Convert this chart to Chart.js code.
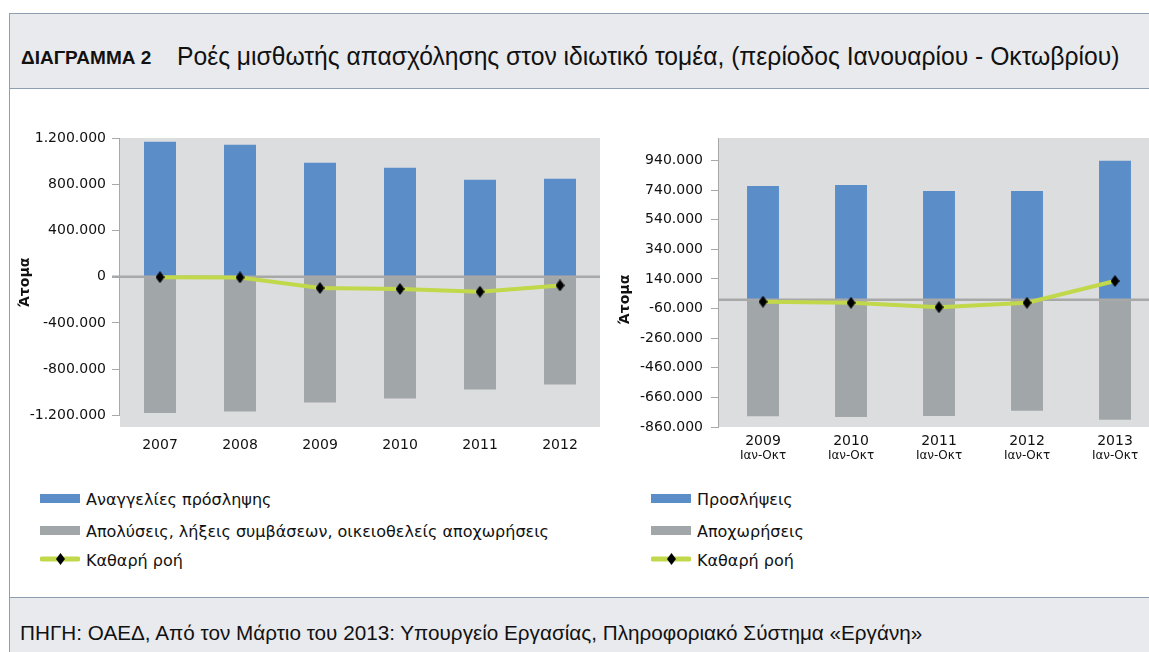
<!DOCTYPE html>
<html>
<head>
<meta charset="utf-8">
<script src="https://cdn.jsdelivr.net/npm/chart.js@4.4.0/dist/chart.umd.min.js"></script>
<style>
  body { margin: 0; width: 1149px; height: 652px; overflow: hidden; background: #fff; position: relative; font-family: "DejaVu Sans", sans-serif; color: #111; }
  #frame { position: absolute; left: 9px; top: 13px; width: 1200px; height: 700px; border-left: 1px solid #8e9fb3; border-top: 1px solid #8e9fb3; }
  #head { position: absolute; left: 10px; top: 14px; width: 1200px; height: 74px; background: #e9eaee; border-bottom: 1px solid #8e9fb3; }
  #foot { position: absolute; left: 10px; top: 597px; width: 1200px; height: 80px; background: #e9eaee; border-top: 1px solid #8e9fb3; }
  .txt { position: absolute; white-space: nowrap; line-height: 1; }
  #num { left: 21px; top: 47px; font: bold 19px "Liberation Sans", sans-serif; }
  #title { left: 177px; top: 41px; font: 26px "Liberation Sans", sans-serif; transform: scaleX(0.948); transform-origin: 0 0; }
  #source { left: 20px; top: 621px; font: 20.7px "Liberation Sans", sans-serif; }
  canvas { position: absolute; }
  #leftChart { left: 10px; top: 118px; }
  #rightChart { left: 610px; top: 118px; }
  .leg { position: absolute; font-size: 16px; line-height: 1; white-space: nowrap; }
  .leg .sw { position: absolute; left: 0; width: 40px; height: 9px; }
  .leg canvas { position: absolute; left: 0; }
  .leg span { position: absolute; left: 46px; top: 0; }
</style>
</head>
<body>
<div id="frame"></div>
<div id="head"></div>
<div id="foot"></div>
<div class="txt" id="num">ΔΙΑΓΡΑΜΜΑ 2</div>
<div class="txt" id="title">Ροές μισθωτής απασχόλησης στον ιδιωτικό τομέα, (περίοδος Ιανουαρίου - Οκτωβρίου)</div>
<div class="txt" id="source">ΠΗΓΗ: ΟΑΕΔ, Από τον Μάρτιο του 2013: Υπουργείο Εργασίας, Πληροφοριακό Σύστημα «Εργάνη»</div>

<canvas id="leftChart" width="600" height="352"></canvas>
<canvas id="rightChart" width="560" height="352"></canvas>
<div id="legendLeft"></div>
<div id="legendRight"></div>

<script>
"use strict";
// left chart: annual flows
const years = ['2007', '2008', '2009', '2010', '2011', '2012'];
const announcements = [1168000, 1142000, 986000, 943000, 839000, 848000];
const dismissals = [-1179000, -1165000, -1087000, -1053000, -975000, -932000];
const netFlow = [-4000, -6000, -98000, -106000, -130000, -75000];
const leftTicks = [1200000, 800000, 400000, 0, -400000, -800000, -1200000];

// right chart: January - October
const periodYears = ['2009', '2010', '2011', '2012', '2013'];
const periodLabels = ['Ιαν-Οκτ', 'Ιαν-Οκτ', 'Ιαν-Οκτ', 'Ιαν-Οκτ', 'Ιαν-Οκτ'];
const hires = [768000, 775000, 734000, 734000, 938000];
const exits = [-788000, -793000, -786000, -750000, -811000];
const netFlowPeriod = [-14000, -21000, -51000, -21000, 126000];
const rightTicks = [940000, 740000, 540000, 340000, 140000, -60000, -260000, -460000, -660000, -860000];

const blue = '#5b8ec9';
const grey = '#a1a6a9';
const green = '#c1d84a';
const axisGrey = '#a8a8a8';

function fmt(v) {
    const s = String(Math.abs(v)).replace(/\B(?=(\d{3})+(?!\d))/g, '.');
    return (v < 0 ? '-' : '') + s;
}

function diamond(w, h) {
    const c = document.createElement('canvas');
    c.width = w;
    c.height = h;
    const g = c.getContext('2d');
    g.fillStyle = '#000';
    g.beginPath();
    g.moveTo(w / 2, 0);
    g.lineTo(w, h / 2);
    g.lineTo(w / 2, h);
    g.lineTo(0, h / 2);
    g.closePath();
    g.fill();
    return c;
}
const marker = diamond(9, 12);

const plotBg = {
    id: 'plotBg',
    beforeDraw(chart) {
        const a = chart.chartArea, ctx = chart.ctx;
        ctx.save();
        ctx.fillStyle = '#dcdddf';
        ctx.fillRect(a.left, a.top, a.right - a.left, a.bottom - a.top);
        ctx.restore();
    }
};

// y axis line only runs down to the lowest tick
const axisLine = {
    id: 'axisLine',
    afterDraw(chart) {
        const y = chart.scales.y, ctx = chart.ctx;
        const low = Math.min(...y.ticks.map(t => t.value));
        const x = Math.round(chart.chartArea.left) - 0.5;
        ctx.save();
        ctx.strokeStyle = axisGrey;
        ctx.lineWidth = 1;
        ctx.beginPath();
        ctx.moveTo(x, chart.chartArea.top);
        ctx.lineTo(x, y.getPixelForValue(low) + 0.5);
        ctx.stroke();
        ctx.restore();
    }
};

// zero line goes over the bars but under the net flow line
const zeroLine = {
    id: 'zeroLine',
    beforeDatasetDraw(chart, args) {
        if (args.meta.type !== 'line') return;
        const a = chart.chartArea, ctx = chart.ctx;
        const y = chart.scales.y.getPixelForValue(0);
        ctx.save();
        ctx.strokeStyle = axisGrey;
        ctx.lineWidth = 2.5;
        ctx.beginPath();
        ctx.moveTo(chart.options.zeroFrom ? a.left - 8 : a.left, y);
        ctx.lineTo(a.right, y);
        ctx.stroke();
        ctx.restore();
    }
};

function datasets(labels, pos, neg, net) {
    return [
        { type: 'bar', label: labels[0], data: pos, backgroundColor: blue, order: 1 },
        { type: 'bar', label: labels[1], data: neg, backgroundColor: grey, order: 1 },
        {
            type: 'line', label: labels[2], data: net, borderColor: green, borderWidth: 4,
            pointStyle: marker, pointRadius: 6, tension: 0, order: 0
        }
    ];
}

function yAxis(min, max, ticks, width, pad) {
    return {
        min: min,
        max: max,
        afterBuildTicks: s => { s.ticks = ticks.map(v => ({ value: v })); },
        afterFit: s => { s.width = width; },
        grid: { drawOnChartArea: false, drawTicks: true, tickLength: 8, tickColor: axisGrey, tickWidth: 1 },
        border: { display: false },
        ticks: {
            padding: pad, color: '#111',
            font: { family: 'DejaVu Sans', size: 14 },
            callback: v => fmt(v)
        },
        title: {
            display: true, text: 'Άτομα', color: '#111',
            font: { family: 'DejaVu Sans', size: 14, weight: 'bold' },
            padding: { top: 7, bottom: 0 }
        }
    };
}

const leftLabels = ['Αναγγελίες πρόσληψης', 'Απολύσεις, λήξεις συμβάσεων, οικειοθελείς αποχωρήσεις', 'Καθαρή ροή'];
const rightLabels = ['Προσλήψεις', 'Αποχωρήσεις', 'Καθαρή ροή'];

const leftChart = new Chart(document.getElementById('leftChart'), {
    data: { labels: years, datasets: datasets(leftLabels, announcements, dismissals, netFlow) },
    options: {
        responsive: false,
        animation: false,
        zeroFrom: true,
        layout: { padding: { top: 20, right: 8, bottom: 0, left: 0 } },
        plugins: { legend: { display: false }, tooltip: { enabled: false } },
        datasets: { bar: { categoryPercentage: 1, barPercentage: 0.4 } },
        scales: {
            x: {
                stacked: true,
                afterFit: s => { s.height = 43; },
                grid: { display: false, drawTicks: false },
                border: { display: false },
                ticks: { padding: 10, color: '#111', font: { family: 'DejaVu Sans', size: 14 } }
            },
            y: yAxis(-1300000, 1200000, leftTicks, 110, 6)
        }
    },
    plugins: [plotBg, zeroLine, axisLine]
});

const rightY = yAxis(-860000, 1092000, rightTicks, 109, 8);
rightY.title.text = 'Άτομα       ';

const rightChart = new Chart(document.getElementById('rightChart'), {
    data: { labels: periodYears, datasets: datasets(rightLabels, hires, exits, netFlowPeriod) },
    options: {
        responsive: false,
        animation: false,
        layout: { padding: { top: 20, right: 11, bottom: 0, left: 0 } },
        plugins: { legend: { display: false }, tooltip: { enabled: false } },
        datasets: { bar: { categoryPercentage: 1, barPercentage: 0.363 } },
        scales: {
            x: {
                stacked: true,
                weight: 0,
                afterFit: s => { s.height = 21; },
                grid: { display: false, drawTicks: false },
                border: { display: false },
                ticks: { padding: 6, color: '#111', font: { family: 'DejaVu Sans', size: 14 } }
            },
            x2: {
                type: 'category',
                labels: periodLabels,
                position: 'bottom',
                offset: true,
                weight: 1,
                afterFit: s => { s.height = 22; },
                grid: { display: false, drawTicks: false },
                border: { display: false },
                ticks: { padding: 1, color: '#111', font: { family: 'DejaVu Sans', size: 12 } }
            },
            y: rightY
        }
    },
    plugins: [plotBg, zeroLine, axisLine]
});

// html legends built from the chart datasets
function legend(chart, el, left, top, rowY) {
    el.style.position = 'absolute';
    el.style.left = left + 'px';
    el.style.top = top + 'px';
    chart.data.datasets.forEach((ds, i) => {
        const row = document.createElement('div');
        row.className = 'leg';
        row.style.top = rowY[i] + 'px';
        if (ds.type === 'bar') {
            const sw = document.createElement('div');
            sw.className = 'sw';
            sw.style.top = '2px';
            sw.style.background = ds.backgroundColor;
            row.appendChild(sw);
        } else {
            const c = document.createElement('canvas');
            c.width = 40;
            c.height = 14;
            c.style.top = '-1px';
            const g = c.getContext('2d');
            g.strokeStyle = ds.borderColor;
            g.lineWidth = 5;
            g.lineCap = 'round';
            g.beginPath();
            g.moveTo(2, 7);
            g.lineTo(38, 7);
            g.stroke();
            g.drawImage(marker, 16, 1);
            row.appendChild(c);
        }
        const t = document.createElement('span');
        t.textContent = ds.label;
        row.appendChild(t);
        el.appendChild(row);
    });
}
legend(leftChart, document.getElementById('legendLeft'), 40, 0, [492, 524, 553]);
legend(rightChart, document.getElementById('legendRight'), 651, 0, [492, 524, 553]);
</script>
</body>
</html>
